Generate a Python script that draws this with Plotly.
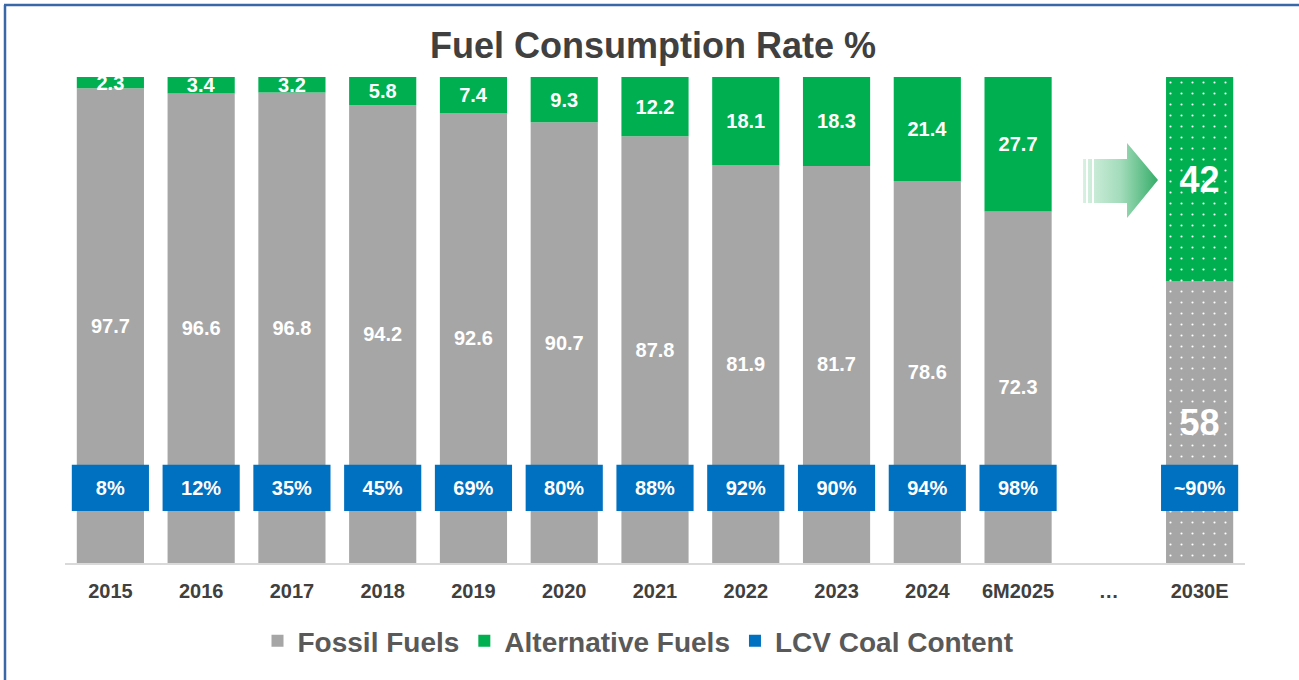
import plotly.graph_objects as go

# data
periods = ["2015", "2016", "2017", "2018", "2019", "2020", "2021",
           "2022", "2023", "2024", "6M2025", "…", "2030E"]
fossil_fuels = [97.7, 96.6, 96.8, 94.2, 92.6, 90.7, 87.8, 81.9, 81.7, 78.6, 72.3, None, 58]
alternative_fuels = [2.3, 3.4, 3.2, 5.8, 7.4, 9.3, 12.2, 18.1, 18.3, 21.4, 27.7, None, 42]
lcv_coal_content = ["8%", "12%", "35%", "45%", "69%", "80%", "88%",
                    "92%", "90%", "94%", "98%", None, "~90%"]
estimate_flags = [False] * 12 + [True]

GREY = "#A6A6A6"
GREEN = "#00B050"
BLUE = "#0070C0"
FONT = "Liberation Sans, Arial, sans-serif"

W, H = 1299, 680
L, R, T, B = 65, 54, 77, 117
PW, PH = W - L - R, H - T - B
n = len(periods)
xs = list(range(n))

# label box placement for the LCV row (style, not data)
LCV_BASE, LCV_HEIGHT = 10.7, 9.5


def px_x(px):
    return -0.5 + (px - L) / PW * n


def px_y(py):
    return (H - B - py) / PH * 100


def paper_x(px):
    return (px - L) / PW


def paper_y(py):
    return (H - B - py) / PH


def fmt(v):
    if v is None:
        return ""
    return f"{v:g}" if float(v).is_integer() else f"{v:.1f}"


patterns = ["." if e else "" for e in estimate_flags]
label_sizes = [36 if e else 20 for e in estimate_flags]

fig = go.Figure()

fig.add_trace(go.Bar(
    x=xs, y=fossil_fuels, name="Fossil Fuels", width=0.74,
    marker=dict(color=GREY, line_width=0,
                pattern=dict(shape=patterns, fgcolor="white", fgopacity=1,
                             fillmode="overlay", size=11, solidity=0.03)),
    text=[fmt(v) for v in fossil_fuels], textposition="inside",
    insidetextanchor="middle", constraintext="none", textangle=0,
    textfont=dict(color="white", size=label_sizes, family=FONT, weight="bold"),
    cliponaxis=False, hoverinfo="skip",
))

fig.add_trace(go.Bar(
    x=xs, y=alternative_fuels, base=fossil_fuels, name="Alternative Fuels", width=0.74,
    marker=dict(color=GREEN, line_width=0,
                pattern=dict(shape=patterns, fgcolor="white", fgopacity=1,
                             fillmode="overlay", size=11, solidity=0.03)),
    text=[fmt(v) for v in alternative_fuels], textposition="inside",
    insidetextanchor="middle", constraintext="none", textangle=0,
    textfont=dict(color="white", size=label_sizes, family=FONT, weight="bold"),
    cliponaxis=False, hoverinfo="skip",
))

fig.add_trace(go.Bar(
    x=xs, y=[LCV_HEIGHT if v else None for v in lcv_coal_content],
    base=LCV_BASE, name="LCV Coal Content", width=0.85,
    marker=dict(color=BLUE, line_width=0),
    text=lcv_coal_content, textposition="inside",
    insidetextanchor="middle", constraintext="none", textangle=0,
    textfont=dict(color="white", size=20, family=FONT, weight="bold"),
    hoverinfo="skip",
))

# decorative gradient arrow pointing to the 2030 estimate
arrow_px = [
    (1083, 159), (1086, 159), (1086, 203), (1083, 203), (1083, 159), None,
    (1088, 159), (1092, 159), (1092, 203), (1088, 203), (1088, 159), None,
    (1094, 159), (1127, 159), (1127, 143), (1158, 180), (1127, 218),
    (1127, 203), (1094, 203), (1094, 159),
]
fig.add_trace(go.Scatter(
    x=[px_x(p[0]) if p else None for p in arrow_px],
    y=[px_y(p[1]) if p else None for p in arrow_px],
    mode="lines", fill="toself", line=dict(width=0, color="rgba(0,0,0,0)"),
    fillgradient=dict(type="horizontal",
                      colorscale=[[0, "#d8f1e2"], [0.5, "#a3dcbb"], [1, "#35ad68"]]),
    showlegend=False, hoverinfo="skip",
))

# frame lines (top and left)
fig.add_shape(type="line", xref="paper", yref="paper",
              x0=paper_x(4), x1=paper_x(W), y0=paper_y(5), y1=paper_y(5),
              line=dict(color="#3868A8", width=2.5))
fig.add_shape(type="line", xref="paper", yref="paper",
              x0=paper_x(5), x1=paper_x(5), y0=paper_y(5), y1=paper_y(H),
              line=dict(color="#3868A8", width=2.5))

fig.update_layout(
    width=W, height=H,
    margin=dict(l=L, r=R, t=T, b=B),
    barmode="overlay",
    paper_bgcolor="white", plot_bgcolor="white",
    font=dict(family=FONT, color="#404040"),
    title=dict(text="<b>Fuel Consumption Rate %</b>", x=653 / W, xanchor="center",
               y=1 - 45 / H, yanchor="middle",
               font=dict(size=36, color="#404040", family=FONT)),
    legend=dict(orientation="h", x=paper_x(638), xanchor="center",
                y=paper_y(641), yanchor="middle",
                font=dict(size=28, color="#595959", family=FONT, weight="bold"),
                itemsizing="constant", traceorder="normal"),
    showlegend=True,
)
fig.update_xaxes(
    range=[-0.5, n - 0.5], tickmode="array", tickvals=xs,
    ticktext=[f"<b>{p}</b>" for p in periods],
    tickfont=dict(size=20, color="#404040", family=FONT),
    showline=True, linecolor="#D9D9D9", linewidth=2,
    showgrid=False, zeroline=False, ticks="", ticklabelstandoff=9,
    fixedrange=True,
)
fig.update_yaxes(range=[0, 100], visible=False, fixedrange=True)

fig.write_html("out.html", config={"displayModeBar": False},
               post_script="document.body.style.margin='0px';")
